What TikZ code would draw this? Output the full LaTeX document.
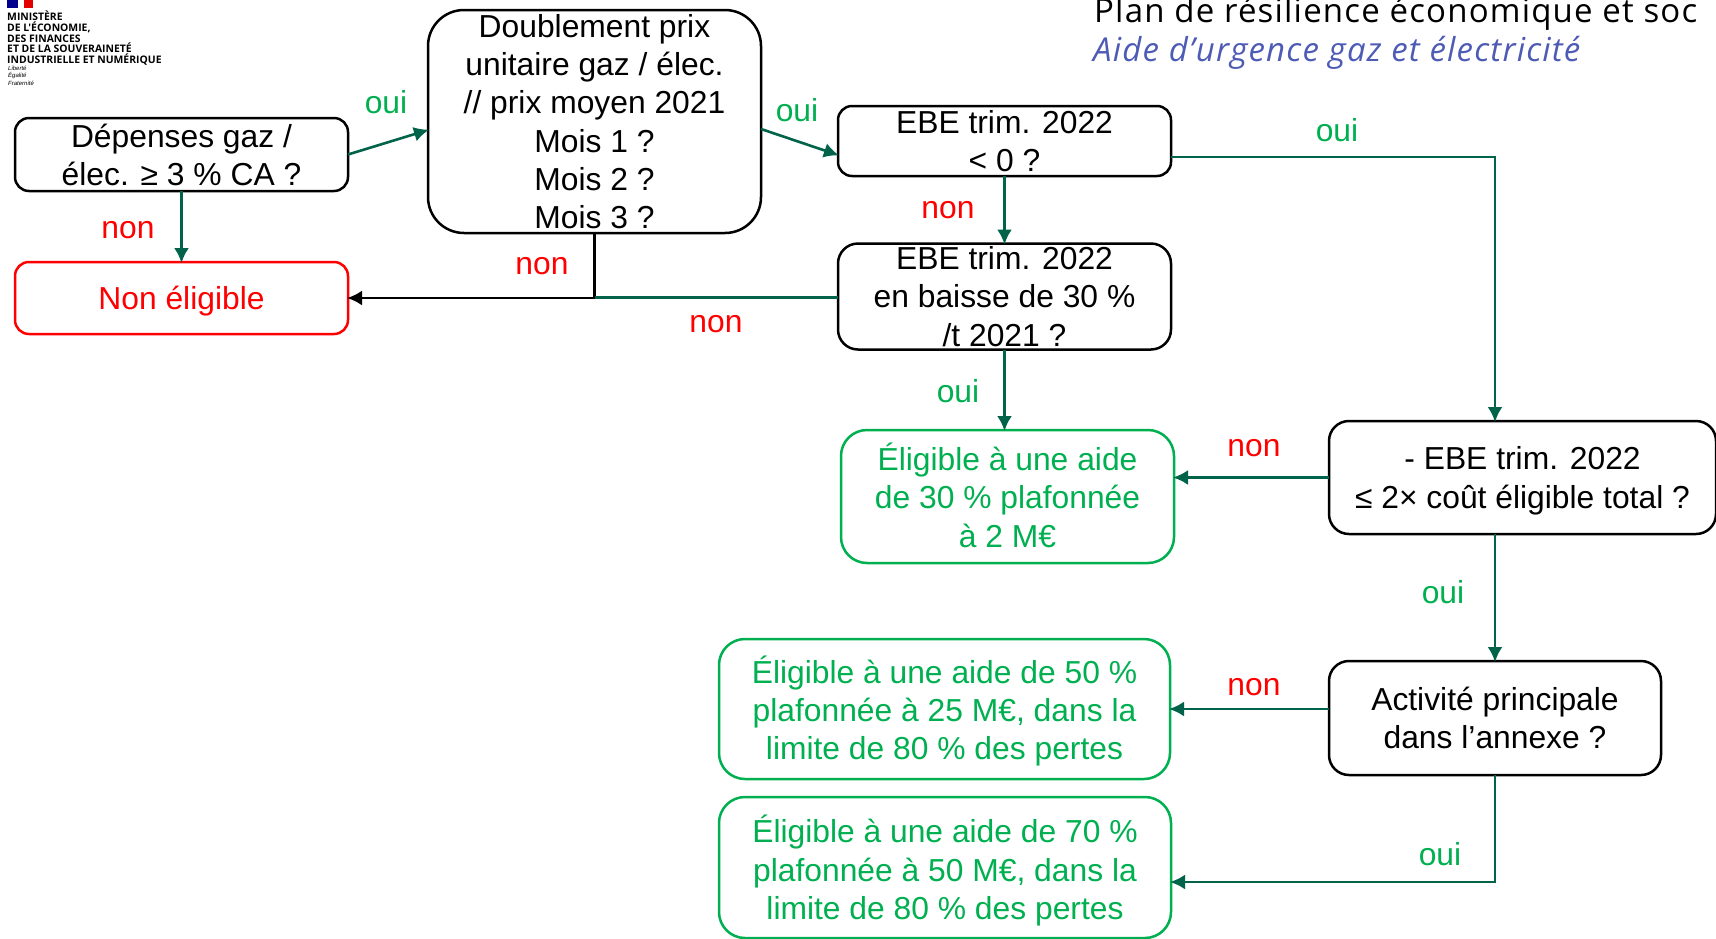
\documentclass[tikz,border=0pt]{standalone}
\usepackage{fontspec}
\setmainfont{Liberation Sans}
\newfontfamily\titlefont[LetterSpace=3.6]{Open Sans}
\newfontfamily\logofont{Open Sans}
\usepackage{tikz}
\usetikzlibrary{arrows.meta}
\definecolor{arrowgreen}{HTML}{00634A}
\definecolor{okgreen}{HTML}{00B050}
\definecolor{subblue}{HTML}{4E5BB5}
\tikzset{question/.style = {draw, rounded corners=14pt, line width=2.5pt, align=center, outer sep=0pt, inner xsep=0pt, inner ysep=-6pt, font=\fontsize{31.8}{38.3}\selectfont}}
\tikzset{result/.style = {question, draw=okgreen, text=okgreen, rounded corners=26pt}}
\tikzset{refused/.style = {question, draw=red, text=red}}
\tikzset{yes/.style = {text=okgreen, font=\fontsize{31.8}{38.3}\selectfont}}
\tikzset{no/.style = {text=red, font=\fontsize{31.8}{38.3}\selectfont}}
\tikzset{link/.style = {->, arrowgreen, line width=2.6pt, shorten >=-1pt}}

\begin{document}
\begin{tikzpicture}[x=1pt, y=-1pt, >={Latex[length=15pt,width=15pt]}]
  \useasboundingbox (0,0) rectangle (1716,938);

  \fill [blue!55!black] (7,0) rectangle (18,8);
  \fill [red!90!black] (24,0) rectangle (33,8);
  \node [anchor=north west, inner sep=0pt, align=left, font=\logofont\bfseries\fontsize{10.4}{10.6}\selectfont] (logo) at (7,11) {MINISTÈRE\\DE L'ÉCONOMIE,\\DES FINANCES\\ET DE LA SOUVERAINETÉ\\INDUSTRIELLE ET NUMÉRIQUE};
  \node [anchor=north west, inner sep=0pt, align=left, font=\rmfamily\itshape\fontsize{6}{7.2}\selectfont] (motto) at (8,66) {Liberté\\Égalité\\Fraternité};

  \node [anchor=base west, inner sep=0pt, font=\titlefont\fontsize{33}{36}\selectfont] (title) at (1094,22.7) {Plan de résilience économique et soc};
  \node [anchor=base west, inner sep=0pt, text=subblue, font=\titlefont\itshape\fontsize{33}{36}\selectfont] (subtitle) at (1093,61.7) {Aide d’urgence gaz et électricité};

  \node [question, text depth=-1.3pt, minimum width=333pt, minimum height=73pt] (dep) at (181.5,154.5) {Dépenses gaz /\\élec. ≥ 3 \% CA ?};
  \node [refused, text depth=0.1pt, minimum width=333pt, minimum height=72pt] (nonel) at (181.5,298) {Non éligible};
  \node [question, rounded corners=36pt, minimum width=333pt, minimum height=223pt] (dbl) at (594.5,121.5) {Doublement prix\\unitaire gaz / élec.\\// prix moyen 2021\\Mois 1 ?\\Mois 2 ?\\Mois 3 ?};
  \node [question, text depth=-1.5pt, minimum width=333pt, minimum height=70pt] (ebe1) at (1004.5,141) {EBE trim. 2022\\< 0 ?};
  \node [question, rounded corners=20pt, minimum width=333pt, minimum height=106pt] (ebe2) at (1004.5,296.5) {EBE trim. 2022\\en baisse de 30 \%\\/t 2021 ?};
  \node [result, text depth=2.7pt, minimum width=333pt, minimum height=133pt] (el30) at (1007.5,496.5) {Éligible à une aide\\de 30 \% plafonnée\\à 2 M€};
  \node [question, text depth=0pt, rounded corners=20pt, minimum width=387pt, minimum height=113pt] (ebm) at (1522.5,477.5) {- EBE trim. 2022\\≤ 2× coût éligible total ?};
  \node [question, text depth=-1.5pt, rounded corners=20pt, minimum width=332pt, minimum height=114pt] (act) at (1495,718) {Activité principale\\dans l’annexe ?};
  \node [result, text depth=2.3pt, minimum width=451pt, minimum height=140pt] (el50) at (944.5,709) {Éligible à une aide de 50 \%\\plafonnée à 25 M€, dans la\\limite de 80 \% des pertes};
  \node [result, text depth=0.1pt, minimum width=452pt, minimum height=141pt] (el70) at (945,867.5) {Éligible à une aide de 70 \%\\plafonnée à 50 M€, dans la\\limite de 80 \% des pertes};

  \node [yes] (oui1) at (386,102) {oui};
  \node [no] (non1) at (128,230.5) {non};
  \node [yes] (oui2) at (797,110) {oui};
  \node [no] (non2) at (542,266.5) {non};
  \node [no] (non3) at (716,324.5) {non};
  \node [no] (non4) at (948,210.5) {non};
  \node [yes] (oui3) at (1337,130) {oui};
  \node [yes] (oui4) at (958,391.5) {oui};
  \node [no] (non5) at (1254,448) {non};
  \node [yes] (oui5) at (1443,592) {oui};
  \node [no] (non6) at (1254,687.5) {non};
  \node [yes] (oui6) at (1440,854) {oui};

  \path[link] (dep.east) edge ([yshift=-8.5pt]dbl.west);
  \path[link] (dep.south) edge (nonel.north);
  \path[link] ([yshift=-7.5pt]dbl.east) edge ([yshift=-14pt]ebe1.west);
  \draw[->, line width=2.6pt, shorten >=-1pt] (dbl.south) |- (nonel.east);
  \draw[arrowgreen, line width=2.6pt] ([yshift=-1pt]ebe2.west) -- ([yshift=-1pt]ebe2.west -| dbl.south);
  \path[link] (ebe1.south) edge (ebe2.north);
  \draw[link] ([yshift=-16pt]ebe1.east) -| (act.north |- ebm.north);
  \path[link] (ebe2.south) edge (ebe2.south |- el30.north);
  \path[link] (ebm.west) edge (ebm.west -| el30.east);
  \path[link] (act.north |- ebm.south) edge (act.north);
  \path[link] (act.west |- el50.east) edge (el50.east);
  \draw[link] (act.south) |- ([yshift=-14.5pt]el70.east);
\end{tikzpicture}
\end{document}
